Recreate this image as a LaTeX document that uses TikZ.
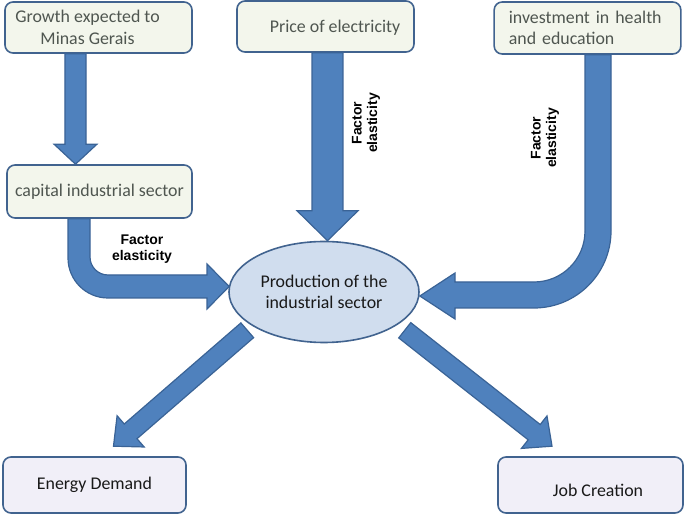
\documentclass[tikz,border=0pt]{standalone}
\usepackage{fontspec}
\setmainfont{Carlito}
\newfontfamily\factorfont{Liberation Sans}
\usepackage{xcolor}
\usepackage{tikz}
\usetikzlibrary{calc,positioning,shapes.geometric}

\definecolor{boxline}{HTML}{41638F}
\definecolor{topfill}{HTML}{F3F6EC}
\definecolor{lowfill}{HTML}{F1EFF8}
\definecolor{prodfill}{HTML}{D0DDEE}
\definecolor{toptext}{HTML}{4F5650}
\definecolor{arrowfill}{HTML}{4F81BD}
\definecolor{arrowline}{HTML}{3A6396}

\tikzset{
  inbox/.style={draw=boxline, line width=1.2pt, rounded corners=6pt, fill=topfill,
    text=toptext, align=center, inner sep=0pt, font=\fontsize{13.4}{16}\selectfont},
  outbox/.style={inbox, fill=lowfill, text=black!90},
  boxtext/.style={align=center, inner sep=0pt, font=\fontsize{13.4}{16}\selectfont},
  prodnode/.style={ellipse, draw=boxline, line width=1.2pt, fill=prodfill, text=black!90,
    align=center, inner sep=0pt, font=\fontsize{13.4}{16}\selectfont},
  arrowbody/.style={fill=arrowfill, draw=arrowline, line width=0.9pt, line join=miter},
  factorlabel/.style={align=center, inner sep=0pt,
    font=\factorfont\bfseries\fontsize{10.5}{11.5}\selectfont}
}

% start, tip, shaft half width, head half width, head length
\newcommand{\blockarrow}[5]{%
  \path ($(#2)!#5!(#1)$) coordinate (hb);
  \filldraw[arrowbody] ($(#1)!#3!90:(#2)$) -- ($(hb)!#3!90:(#2)$) -- ($(hb)!#4!90:(#2)$)
    -- (#2) -- ($(hb)!#4!-90:(#2)$) -- ($(hb)!#3!-90:(#2)$) -- ($(#1)!#3!-90:(#2)$) -- cycle;
}

\begin{document}
\begin{tikzpicture}[x=0.75pt,y=0.75pt]
  \useasboundingbox (0,0) rectangle (685,514);

  \node[inbox, minimum width=140.25pt, minimum height=38.25pt] (growth) at (98.5,486.5) {};
  \node[boxtext, text=toptext] (growthtext) at ($(growth.center)+(-11,0)$)
    {Growth expected to\\Minas Gerais};
  \node[inbox, minimum width=132.75pt, minimum height=38.25pt] (price) at (325.5,487.5) {};
  \node[boxtext, text=toptext] (pricetext) at ($(price.center)+(9.5,-1.5)$)
    {Price of electricity};
  \node[inbox, align=left, text width=118pt, inner xsep=11pt, minimum height=39pt] (invest) at (587.5,486)
    {investment in health\\and education};
  \node[inbox, minimum width=138.75pt, minimum height=39.75pt] (capital) at (99.5,322.5)
    {capital industrial sector};
  \node[prodnode, minimum width=142.5pt, minimum height=75.75pt] (prod) at (324,222)
    {Production of the\\industrial sector};
  \node[outbox, minimum width=137.25pt, minimum height=42pt] (energy) at (94.5,29)
    {Energy Demand};
  \node[outbox, minimum width=138.75pt, minimum height=42pt] (job) at (590.5,29) {};
  \node[boxtext, text=black!90] (jobtext) at ($(job.center)+(7.5,-5)$) {Job Creation};

  \coordinate (growthout) at ($(growth.south)+(-23,0)$);
  \coordinate (capitalin) at ($(capital.north)+(-24,0)$);
  \coordinate (priceout) at ($(price.south)+(2,0)$);
  \coordinate (prodtop) at ($(prod.north)+(3.5,0)$);
  \coordinate (capout) at ($(capital.south)+(-20.5,0)$);
  \coordinate (captip) at ($(prod.west)+(1,5.5)$);
  \coordinate (invout) at ($(invest.south)+(10.5,0)$);
  \coordinate (invtip) at ($(prod.east)+(0,-4)$);
  \coordinate (prodsw) at ($(prod.south west)+(-9,-2)$);
  \coordinate (prodse) at ($(prod.south east)+(13,-2)$);
  \coordinate (energyin) at ($(energy.north)+(19,10)$);
  \coordinate (jobin) at ($(job.north)+(-38.5,10)$);

  \blockarrow{growthout}{capitalin}{7.9pt}{16.1pt}{15pt}
  \blockarrow{priceout}{prodtop}{11.6pt}{22.9pt}{22.5pt}
  \blockarrow{prodsw}{energyin}{7.3pt}{15.5pt}{17pt}
  \blockarrow{prodse}{jobin}{7.3pt}{15.5pt}{17pt}

  \filldraw[arrowbody] ($(capout)+(-11,0)$) -- (68,256) .. controls (68,233.9) and (85.9,216) .. (108,216)
    -- (207,216) -- (207,205) -- (captip) -- (207,250) -- (207,239)
    -- (108,239) .. controls (98.06,239) and (90,247.06) .. (90,257) -- ($(capout)+(11,0)$) -- cycle;

  \filldraw[arrowbody] ($(invout)+(-13,0)$) -- (585,283) .. controls (585,254.8) and (562.2,232) .. (534,232)
    -- (455,232) -- (455,241) -- (invtip) -- (455,195) -- (455,206)
    -- (534,206) .. controls (576.5,206) and (611,240.5) .. (611,283) -- ($(invout)+(13,0)$) -- cycle;

  \node[factorlabel] (factcap) at (142,265) {Factor\\elasticity};
  \node[factorlabel, rotate=90] (factprice) at (366,391) {Factor\\elasticity};
  \node[factorlabel, rotate=90] (factinv) at (545,376) {Factor\\elasticity};
\end{tikzpicture}
\end{document}
